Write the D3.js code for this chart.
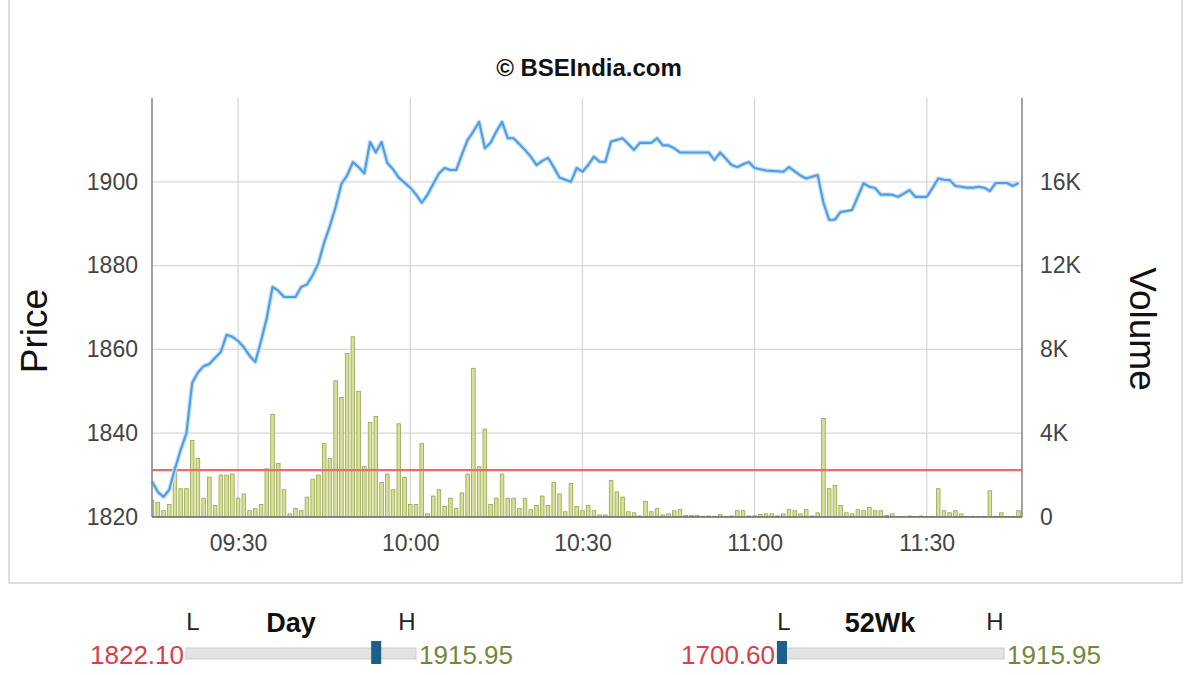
<!DOCTYPE html>
<html><head><meta charset="utf-8">
<script src="https://cdn.jsdelivr.net/npm/d3@7"></script>
<style>
html,body{margin:0;padding:0;background:#fff;}
svg{display:block;font-family:"Liberation Sans",Arial,sans-serif;}
</style></head>
<body><svg id="c" width="1200" height="675"></svg>
<script>
// ---------- data ----------
const startTime = "09:15";
const endTime = "11:46:36";
// price per minute from 09:15 to 11:46
const priceValues = [
 1828.5,1826.0,1824.8,1826.5,1831.5,1836.0,1840.0,1852.0,1854.5,1856.0,
 1856.5,1858.0,1859.4,1863.5,1863.0,1862.0,1860.5,1858.5,1857.0,1862.0,
 1867.5,1874.9,1874.0,1872.5,1872.5,1872.5,1874.9,1875.5,1877.7,1880.6,
 1885.5,1889.5,1894.0,1899.5,1901.5,1904.7,1903.5,1902.0,1909.5,1907.0,
 1909.5,1904.5,1903.0,1901.0,1899.8,1898.6,1897.0,1895.0,1896.9,1899.5,
 1902.0,1903.3,1902.8,1902.8,1906.5,1910.0,1912.0,1914.3,1908.0,1909.3,
 1912.0,1914.3,1910.4,1910.4,1909.0,1907.6,1906.0,1904.0,1905.0,1905.7,
 1903.5,1901.0,1900.5,1900.0,1903.3,1902.4,1904.0,1906.0,1904.8,1904.8,
 1909.6,1910.0,1910.4,1909.0,1907.6,1909.3,1909.3,1909.3,1910.4,1908.7,
 1908.7,1908.0,1907.0,1907.0,1907.0,1907.0,1907.0,1907.0,1905.2,1907.0,
 1905.5,1904.0,1903.5,1904.2,1904.7,1903.3,1903.0,1902.7,1902.6,1902.5,
 1902.4,1903.5,1902.5,1901.5,1900.8,1901.2,1901.6,1895.0,1890.9,1891.0,
 1892.8,1893.0,1893.3,1896.5,1899.7,1898.8,1898.5,1896.9,1897.0,1896.9,
 1896.4,1897.2,1898.0,1896.4,1896.4,1896.4,1898.5,1900.8,1900.5,1900.4,
 1899.0,1898.8,1898.6,1898.6,1898.8,1898.6,1897.8,1899.7,1899.7,1899.7,
 1899.0,1899.7
];
// volume per minute (thousands) from 09:15 to 11:46
const volumeValues = [
 0.8,0.7,0.3,0.6,2.4,1.35,1.35,3.65,2.8,0.9,
 1.9,0.55,2.0,2.0,2.05,0.9,1.1,0.3,0.4,0.6,
 2.3,4.9,2.55,1.3,0.15,0.4,0.3,0.95,1.8,2.0,
 3.5,2.8,6.5,5.7,7.8,8.6,6.0,2.4,4.5,4.8,
 1.65,2.05,1.3,4.45,1.9,0.6,0.6,3.5,0.15,1.0,
 1.3,0.5,0.9,0.4,1.15,2.05,7.1,2.4,4.2,0.6,
 0.9,2.05,0.9,0.9,0.4,0.9,0.35,0.55,1.0,0.55,
 1.65,1.1,0.25,1.6,0.5,0.3,0.55,0.3,0.1,0.1,
 1.75,1.2,0.95,0.25,0.2,0.05,0.75,0.25,0.4,0.1,
 0.15,0.3,0.35,0.08,0.08,0.08,0.03,0.05,0.03,0.12,
 0.03,0.05,0.3,0.3,0.05,0.05,0.12,0.15,0.15,0.05,
 0.15,0.35,0.3,0.15,0.35,0.05,0.2,4.7,1.35,1.5,
 0.55,0.2,0.15,0.35,0.3,0.45,0.3,0.3,0.08,0.15,
 0.03,0.03,0.05,0.03,0.05,0.03,0.03,1.35,0.3,0.2,
 0.3,0.15,0.03,0.03,0.03,0.03,1.25,0.03,0.2,0.03,
 0.03,0.3
];
const prevClose = 1831.2;
const priceTicks = [1820,1840,1860,1880,1900];
const priceDomain = [1820,1920];
const volumeTicks = [0,4000,8000,12000,16000];
const volumeTickLabels = ["0","4K","8K","12K","16K"];
const volumeDomain = [0,20000];
const timeTicks = ["09:30","10:00","10:30","11:00","11:30"];
const titleText = "\u00A9 BSEIndia.com";
const dayRange = {label:"Day", low:"1822.10", high:"1915.95", lowV:1822.10, highV:1915.95, cur:1899.7};
const wkRange = {label:"52Wk", low:"1700.60", high:"1915.95", lowV:1700.60, highV:1915.95, cur:1700.60};

// ---------- drawing ----------
const parse = d3.timeParse("%H:%M");
const parseS = d3.timeParse("%H:%M:%S");
const t0 = parse(startTime);
const svg = d3.select("#c");
const L = 152, R = 1022, T = 98, B = 517;

const x = d3.scaleTime().domain([t0, parseS(endTime)]).range([L, R]);
const yP = d3.scaleLinear().domain(priceDomain).range([B, T]);
const yV = d3.scaleLinear().domain(volumeDomain).range([B, T]);

const priceData = priceValues.map((v,i)=>({t:d3.timeMinute.offset(t0,i), v}));
const volData = volumeValues.map((v,i)=>({t:d3.timeMinute.offset(t0,i), v:v*1000}));

// container border
svg.append("path").attr("d", d3.line()([[9,0],[9,583],[1182,583],[1182,0]]))
  .attr("fill","none").attr("stroke","#d4d4d4").attr("stroke-width",1.5);

// title
svg.append("text").attr("x",589).attr("y",76).attr("text-anchor","middle")
  .attr("font-size",24).attr("font-weight","bold").attr("fill","#111").text(titleText);

// grid
svg.append("g").selectAll("line").data(priceTicks.slice(1)).join("line")
  .attr("x1",L).attr("x2",R).attr("y1",d=>yP(d)).attr("y2",d=>yP(d))
  .attr("stroke","#d8d8d8").attr("stroke-width",1.3);
svg.append("g").selectAll("line").data(timeTicks).join("line")
  .attr("x1",d=>x(parse(d))).attr("x2",d=>x(parse(d))).attr("y1",T).attr("y2",B)
  .attr("stroke","#d8d8d8").attr("stroke-width",1.3);

// volume bars
svg.append("clipPath").attr("id","pc").append("rect")
  .attr("x",L).attr("y",T-5).attr("width",R-L).attr("height",B-T+5);
svg.append("g").attr("clip-path","url(#pc)").selectAll("rect").data(volData).join("rect")
  .attr("x",d=>x(d.t)-1.8).attr("width",3.6)
  .attr("y",d=>yV(d.v)).attr("height",d=>B-yV(d.v))
  .attr("fill","#d8e096").attr("stroke","#96a351").attr("stroke-width",0.8);

// prev close line
svg.append("line").attr("x1",L).attr("x2",R).attr("y1",yP(prevClose)).attr("y2",yP(prevClose))
  .attr("stroke","#f0686a").attr("stroke-width",2.2);

// price line
const line = d3.line().x(d=>x(d.t)).y(d=>yP(d.v));
svg.append("path").datum(priceData).attr("d",line).attr("fill","none")
  .attr("stroke","#c2dff8").attr("stroke-width",4.5).attr("stroke-linejoin","round");
svg.append("path").datum(priceData).attr("d",line).attr("fill","none")
  .attr("stroke","#4f9de6").attr("stroke-width",2.1).attr("stroke-linejoin","round");

// axis frame lines
svg.append("line").attr("x1",L).attr("x2",L).attr("y1",T).attr("y2",B).attr("stroke","#8a8a8a").attr("stroke-width",1.6);
svg.append("line").attr("x1",R).attr("x2",R).attr("y1",T).attr("y2",B).attr("stroke","#8a8a8a").attr("stroke-width",1.6);
svg.append("line").attr("x1",L).attr("x2",R).attr("y1",B).attr("y2",B).attr("stroke","#666").attr("stroke-width",1.6);

// axes (labels)
function styleAxis(g){
  g.select(".domain").remove();
  g.selectAll(".tick line").remove();
  g.selectAll("text").attr("font-size",23).attr("fill","#444")
    .attr("font-family","'Liberation Sans',Arial,sans-serif");
}
svg.append("g").attr("transform",`translate(${L},0)`)
  .call(d3.axisLeft(yP).tickValues(priceTicks).tickFormat(d3.format("d")).tickPadding(8))
  .call(styleAxis);
svg.append("g").attr("transform",`translate(${R},0)`)
  .call(d3.axisRight(yV).tickValues(volumeTicks).tickFormat((d,i)=>volumeTickLabels[i]).tickPadding(12))
  .call(styleAxis);
svg.append("g").attr("transform",`translate(0,${B})`)
  .call(d3.axisBottom(x).tickValues(timeTicks.map(parse)).tickFormat(d3.timeFormat("%H:%M")).tickPadding(12))
  .call(styleAxis);

// axis titles
svg.append("text").attr("transform","translate(47,331) rotate(-90)").attr("text-anchor","middle")
  .attr("font-size",37).attr("fill","#111").text("Price");
svg.append("text").attr("transform","translate(1130,329) rotate(90)").attr("text-anchor","middle")
  .attr("font-size",37).attr("fill","#111").text("Volume");

// range sliders
function rangeBar(r, x0, x1){
  const s = d3.scaleLinear().domain([r.lowV, r.highV]).range([x0, x1]);
  const g = svg.append("g");
  g.append("rect").attr("x",x0).attr("y",648).attr("width",x1-x0).attr("height",11)
    .attr("fill","#e2e2e2").attr("stroke","#cdcdcd").attr("stroke-width",1);
  const mx = Math.min(Math.max(s(r.cur), x0+5), x1-5);
  g.append("rect").attr("x",mx-5).attr("y",641).attr("width",10).attr("height",23)
    .attr("fill","#1b5f8c");
  g.append("text").attr("x",x0-2).attr("y",664).attr("text-anchor","end")
    .attr("font-size",26).attr("fill","#d6404a").text(r.low);
  g.append("text").attr("x",x1+3).attr("y",664).attr("text-anchor","start")
    .attr("font-size",26).attr("fill","#6f8a3c").text(r.high);
  g.append("text").attr("x",x0+7).attr("y",630).attr("text-anchor","middle")
    .attr("font-size",24).attr("fill","#222").text("L");
  g.append("text").attr("x",x1-9).attr("y",630).attr("text-anchor","middle")
    .attr("font-size",24).attr("fill","#222").text("H");
  return g;
}
const g1 = rangeBar(dayRange, 186, 416);
g1.append("text").attr("x",291).attr("y",632).attr("text-anchor","middle")
  .attr("font-size",27).attr("font-weight","bold").attr("fill","#111").text(dayRange.label);
const g2 = rangeBar(wkRange, 777, 1004);
g2.append("text").attr("x",880).attr("y",632).attr("text-anchor","middle")
  .attr("font-size",27).attr("font-weight","bold").attr("fill","#111").text(wkRange.label);
</script></body></html>
